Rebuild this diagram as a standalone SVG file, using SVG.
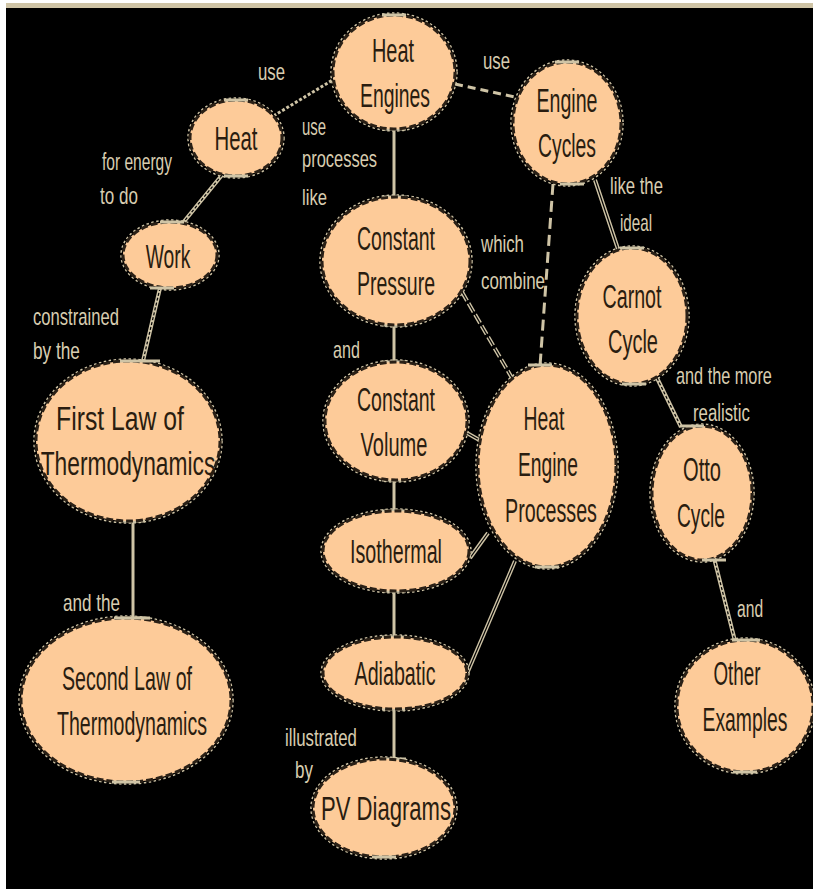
<svg xmlns="http://www.w3.org/2000/svg" width="813" height="892" viewBox="0 0 813 892">
<style>
.bg{fill:#000}
.node ellipse.body{fill:#FDCB99;stroke:#2a2016;stroke-width:3;stroke-dasharray:7 3}
.node ellipse.ring{fill:none;stroke:#cfc4a6;stroke-width:1.5;stroke-dasharray:2.5 2.5}
.node line.bar{stroke:#cfc4a6;stroke-width:3}
.node text{font-family:"Liberation Sans",Arial,sans-serif;font-size:33px;fill:#2a1d10;text-anchor:middle}
.lbl{font-family:"Liberation Sans",Arial,sans-serif;font-size:23px;fill:#d8cdb0}
.c{stroke:#cfc4a6;stroke-width:3;fill:none}
.cd{stroke:#cfc4a6;stroke-width:4;fill:none}
.ci{stroke:#000;stroke-width:1.2;fill:none}
</style>
<rect x="0" y="0" width="813" height="892" fill="#fff"/>
<rect x="6" y="3" width="807" height="5" fill="#cfc4a6"/>
<rect x="6" y="8" width="807" height="881" class="bg"/>

<g id="connectors">
  <line class="c" x1="336" y1="78" x2="275" y2="115" stroke-dasharray="3 2" stroke-width="4"/>
  <line class="c" x1="455" y1="84" x2="515" y2="97" stroke-dasharray="8 5" stroke-width="4"/>
  <line class="c" x1="394" y1="129" x2="394" y2="197"/>
  <line class="c" x1="382" y1="129" x2="406" y2="129"/>
  <line class="c" x1="382" y1="197" x2="406" y2="197"/>
  <line class="cd" x1="222" y1="175" x2="182" y2="224"/>
  <line class="ci" x1="222" y1="175" x2="182" y2="224" stroke-dasharray="3 2"/>
  <line class="cd" x1="160" y1="288" x2="143" y2="361"/>
  <line class="ci" x1="160" y1="288" x2="143" y2="361" stroke-dasharray="3 2"/>
  <line class="c" x1="133" y1="521" x2="133" y2="618"/>
  <line class="c" x1="121" y1="521" x2="145" y2="521"/>
  <line class="c" x1="121" y1="618" x2="145" y2="618"/>
  <line class="c" x1="394" y1="325" x2="394" y2="362"/>
  <line class="c" x1="382" y1="325" x2="406" y2="325"/>
  <line class="c" x1="382" y1="362" x2="406" y2="362"/>
  <line class="c" x1="394" y1="480" x2="394" y2="511"/>
  <line class="c" x1="382" y1="480" x2="406" y2="480"/>
  <line class="c" x1="382" y1="511" x2="406" y2="511"/>
  <line class="c" x1="394" y1="591" x2="394" y2="637"/>
  <line class="c" x1="382" y1="591" x2="406" y2="591"/>
  <line class="c" x1="382" y1="637" x2="406" y2="637"/>
  <line class="c" x1="394" y1="709" x2="394" y2="759"/>
  <line class="c" x1="382" y1="709" x2="406" y2="709"/>
  <line class="c" x1="382" y1="759" x2="406" y2="759"/>
  <line class="cd" x1="462" y1="292" x2="512" y2="378" stroke-dasharray="10 3"/>
  <line class="ci" x1="462" y1="292" x2="512" y2="378"/>
  <line class="cd" x1="467" y1="433" x2="481" y2="441"/>
  <line class="ci" x1="467" y1="433" x2="481" y2="441"/>
  <line class="cd" x1="470" y1="558" x2="488" y2="533"/>
  <line class="ci" x1="470" y1="558" x2="488" y2="533"/>
  <line class="cd" x1="463" y1="683" x2="515" y2="561"/>
  <line class="ci" x1="463" y1="683" x2="515" y2="561"/>
  <line class="c" x1="553" y1="184" x2="540" y2="366" stroke-dasharray="11 6"/>
  <line class="cd" x1="595" y1="180" x2="618" y2="249"/>
  <line class="ci" x1="595" y1="180" x2="618" y2="249"/>
  <line class="cd" x1="657" y1="378" x2="681" y2="427"/>
  <line class="ci" x1="657" y1="378" x2="681" y2="427" stroke-dasharray="3 2"/>
  <line class="cd" x1="714" y1="558" x2="735" y2="641"/>
  <line class="ci" x1="714" y1="558" x2="735" y2="641" stroke-dasharray="3 2"/>
</g>

<g id="labels">
  <text class="lbl" transform="translate(258 80) scale(0.73 1)">use</text>
  <text class="lbl" transform="translate(483 69) scale(0.73 1)">use</text>
  <text class="lbl" transform="translate(302 135) scale(0.65 1)">use</text>
  <text class="lbl" transform="translate(302 167) scale(0.716 1)">processes</text>
  <text class="lbl" transform="translate(302 205) scale(0.725 1)">like</text>
  <text class="lbl" transform="translate(102 170) scale(0.676 1)">for energy</text>
  <text class="lbl" transform="translate(100 204) scale(0.742 1)">to do</text>
  <text class="lbl" transform="translate(33 325) scale(0.723 1)">constrained</text>
  <text class="lbl" transform="translate(33 359) scale(0.75 1)">by the</text>
  <text class="lbl" transform="translate(63 611) scale(0.743 1)">and the</text>
  <text class="lbl" transform="translate(481 252) scale(0.731 1)">which</text>
  <text class="lbl" transform="translate(481 289) scale(0.736 1)">combine</text>
  <text class="lbl" transform="translate(610 194) scale(0.727 1)">like the</text>
  <text class="lbl" transform="translate(620 231) scale(0.66 1)">ideal</text>
  <text class="lbl" transform="translate(676 384) scale(0.708 1)">and the more</text>
  <text class="lbl" transform="translate(693 421) scale(0.73 1)">realistic</text>
  <text class="lbl" transform="translate(737 617) scale(0.68 1)">and</text>
  <text class="lbl" transform="translate(333 358) scale(0.70 1)">and</text>
  <text class="lbl" transform="translate(285 746) scale(0.73 1)">illustrated</text>
  <text class="lbl" transform="translate(295 778) scale(0.74 1)">by</text>
</g>

<g id="n-heat-engines" class="node">
  <ellipse class="ring" cx="394" cy="72" rx="63" ry="59"/>
  <ellipse class="body" cx="394" cy="72" rx="61" ry="57"/>
  <line class="bar" x1="382" y1="15" x2="406" y2="15"/>
  <text transform="translate(393 62) scale(0.603 1)">Heat</text>
  <text transform="translate(395 107) scale(0.587 1)">Engines</text>
</g>
<g id="n-heat" class="node">
  <ellipse class="ring" cx="236" cy="138" rx="48" ry="40"/>
  <ellipse class="body" cx="236" cy="138" rx="46" ry="38"/>
  <line class="bar" x1="224" y1="100" x2="248" y2="100"/>
  <line class="bar" x1="224" y1="176" x2="248" y2="176"/>
  <text transform="translate(236 150) scale(0.617 1)">Heat</text>
</g>
<g id="n-engine-cycles" class="node">
  <ellipse class="ring" cx="567" cy="123" rx="56" ry="63"/>
  <ellipse class="body" cx="567" cy="123" rx="54" ry="61"/>
  <line class="bar" x1="555" y1="62" x2="579" y2="62"/>
  <line class="bar" x1="560" y1="184" x2="584" y2="184"/>
  <text transform="translate(567 112) scale(0.594 1)">Engine</text>
  <text transform="translate(567 157) scale(0.586 1)">Cycles</text>
</g>
<g id="n-work" class="node">
  <ellipse class="ring" cx="170" cy="255" rx="49" ry="35"/>
  <ellipse class="body" cx="170" cy="255" rx="47" ry="33"/>
  <line class="bar" x1="160" y1="222" x2="184" y2="222"/>
  <line class="bar" x1="150" y1="288" x2="174" y2="288"/>
  <text transform="translate(168 268) scale(0.584 1)">Work</text>
</g>
<g id="n-constant-pressure" class="node">
  <ellipse class="ring" cx="396" cy="261" rx="76" ry="66"/>
  <ellipse class="body" cx="396" cy="261" rx="74" ry="64"/>
  <text transform="translate(396 250) scale(0.591 1)">Constant</text>
  <text transform="translate(396 295) scale(0.591 1)">Pressure</text>
</g>
<g id="n-carnot-cycle" class="node">
  <ellipse class="ring" cx="632" cy="316" rx="57" ry="70"/>
  <ellipse class="body" cx="632" cy="316" rx="55" ry="68"/>
  <line class="bar" x1="620" y1="248" x2="644" y2="248"/>
  <line class="bar" x1="622" y1="384" x2="646" y2="384"/>
  <text transform="translate(632 308) scale(0.596 1)">Carnot</text>
  <text transform="translate(633 353) scale(0.606 1)">Cycle</text>
</g>
<g id="n-first-law" class="node">
  <ellipse class="ring" cx="128" cy="441" rx="94" ry="82"/>
  <ellipse class="body" cx="128" cy="441" rx="92" ry="80"/>
  <line class="bar" x1="120" y1="361" x2="160" y2="361"/>
  <text transform="translate(120 430) scale(0.75 1)">First Law of</text>
  <text transform="translate(128 475) scale(0.69 1)">Thermodynamics</text>
</g>
<g id="n-constant-volume" class="node">
  <ellipse class="ring" cx="396" cy="421" rx="73" ry="61"/>
  <ellipse class="body" cx="396" cy="421" rx="71" ry="59"/>
  <text transform="translate(396 411) scale(0.591 1)">Constant</text>
  <text transform="translate(394 456) scale(0.608 1)">Volume</text>
</g>
<g id="n-heat-engine-processes" class="node">
  <ellipse class="ring" cx="547" cy="466" rx="71" ry="103"/>
  <ellipse class="body" cx="547" cy="466" rx="69" ry="101"/>
  <line class="bar" x1="528" y1="365" x2="552" y2="365"/>
  <line class="bar" x1="535" y1="567" x2="559" y2="567"/>
  <text transform="translate(544 430) scale(0.588 1)">Heat</text>
  <text transform="translate(548 476) scale(0.584 1)">Engine</text>
  <text transform="translate(551 522) scale(0.597 1)">Processes</text>
</g>
<g id="n-otto-cycle" class="node">
  <ellipse class="ring" cx="702" cy="493" rx="52" ry="69"/>
  <ellipse class="body" cx="702" cy="493" rx="50" ry="67"/>
  <line class="bar" x1="680" y1="426" x2="704" y2="426"/>
  <line class="bar" x1="702" y1="560" x2="726" y2="560"/>
  <text transform="translate(702 481) scale(0.609 1)">Otto</text>
  <text transform="translate(701 527) scale(0.582 1)">Cycle</text>
</g>
<g id="n-isothermal" class="node">
  <ellipse class="ring" cx="396" cy="551" rx="75" ry="42"/>
  <ellipse class="body" cx="396" cy="551" rx="73" ry="40"/>
  <text transform="translate(396 563) scale(0.597 1)">Isothermal</text>
</g>
<g id="n-second-law" class="node">
  <ellipse class="ring" cx="126" cy="700" rx="107" ry="84"/>
  <ellipse class="body" cx="126" cy="700" rx="105" ry="82"/>
  <line class="bar" x1="114" y1="618" x2="150" y2="618"/>
  <line class="bar" x1="112" y1="782" x2="140" y2="782"/>
  <text transform="translate(127 690) scale(0.596 1)">Second Law of</text>
  <text transform="translate(132 735) scale(0.593 1)">Thermodynamics</text>
</g>
<g id="n-adiabatic" class="node">
  <ellipse class="ring" cx="395" cy="673" rx="74" ry="38"/>
  <ellipse class="body" cx="395" cy="673" rx="72" ry="36"/>
  <text transform="translate(395 685) scale(0.597 1)">Adiabatic</text>
</g>
<g id="n-other-examples" class="node">
  <ellipse class="ring" cx="745" cy="706" rx="70" ry="68"/>
  <ellipse class="body" cx="745" cy="706" rx="68" ry="66"/>
  <line class="bar" x1="732" y1="640" x2="760" y2="640"/>
  <line class="bar" x1="733" y1="772" x2="757" y2="772"/>
  <text transform="translate(737 685) scale(0.57 1)">Other</text>
  <text transform="translate(745 731) scale(0.587 1)">Examples</text>
</g>
<g id="n-pv-diagrams" class="node">
  <ellipse class="ring" cx="384" cy="808" rx="73" ry="51"/>
  <ellipse class="body" cx="384" cy="808" rx="71" ry="49"/>
  <line class="bar" x1="372" y1="857" x2="396" y2="857"/>
  <text transform="translate(386 820) scale(0.669 1)">PV Diagrams</text>
</g>
</svg>
